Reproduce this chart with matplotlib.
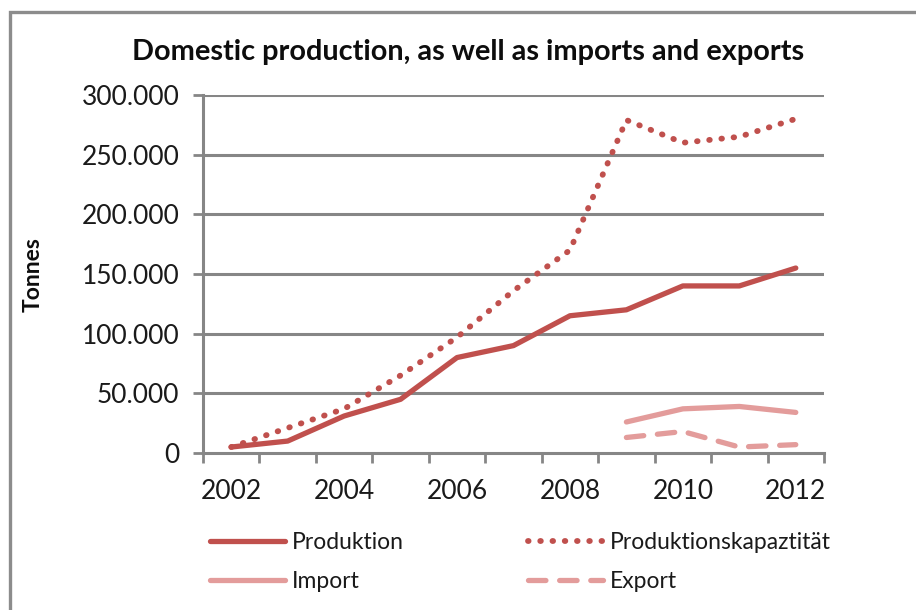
import matplotlib
matplotlib.use("Agg")
import matplotlib.pyplot as plt
from matplotlib.patches import Rectangle
from matplotlib.ticker import FuncFormatter, FixedLocator

plt.rcParams['font.family'] = ['Lato', 'DejaVu Sans']

years = [2002, 2003, 2004, 2005, 2006, 2007, 2008, 2009, 2010, 2011, 2012]
produktion = [5000, 10000, 31000, 45000, 80000, 90000, 115000, 120000, 140000, 140000, 155000]
kapazitaet = [5000, 21000, 37000, 65000, 97000, 136000, 170000, 279000, 260000, 265000, 280000]
trade_years = [2009, 2010, 2011, 2012]
imports = [26000, 37000, 39000, 34000]
exports = [13000, 18000, 5000, 7000]
tick_years = [2002, 2004, 2006, 2008, 2010, 2012]

W, H = 916, 610
fig = plt.figure(figsize=(W / 100, H / 100), dpi=100)

# chart frame
fig.patches.append(Rectangle((10 / W, -0.1), 1.2, 1 - 12 / H + 0.1,
                             transform=fig.transFigure, fill=False,
                             edgecolor='#8c8c8c', linewidth=2.4))

ax = fig.add_axes([203 / W, 1 - 453 / H, (824 - 203) / W, (453 - 95) / H])

red = '#c0504d'
pink = '#e39c9b'
grid = '#868686'

ax.plot(years, produktion, color=red, lw=3.8, solid_capstyle='round', label='Produktion', zorder=3)
ax.plot(years, kapazitaet, color=red, lw=4.2, linestyle=(0, (0.1, 2.0)),
        dash_capstyle='round', label='Produktionskapaztität', zorder=3)
ax.plot(trade_years, imports, color=pink, lw=3.8, solid_capstyle='round', label='Import', zorder=3)
ax.plot(trade_years, exports, color=pink, lw=3.8, linestyle=(0, (3.3, 2.6)),
        dash_capstyle='round', label='Export', zorder=3)

ax.set_xlim(2001.5, 2012.5)
ax.set_ylim(0, 300000)

yt = list(range(0, 300001, 50000))
ax.set_yticks(yt)
ax.yaxis.set_major_formatter(FuncFormatter(lambda v, p: f"{int(v):,}".replace(',', '.')))
for v in yt[1:]:
    ax.axhline(v, color=grid, lw=2.2, zorder=1)

# category labels every other year, tick marks between categories
ax.xaxis.set_major_locator(FixedLocator(tick_years))
ax.xaxis.set_minor_locator(FixedLocator([y - 0.5 for y in years] + [years[-1] + 0.5]))
ax.tick_params(axis='x', which='major', length=0, labelsize=19, pad=19, colors='#1a1a1a')
ax.tick_params(axis='x', which='minor', length=7, width=2.0, color=grid, direction='out')
ax.tick_params(axis='y', length=7, width=2.0, color=grid, labelsize=19, pad=10, labelcolor='#1a1a1a')

for s in ['top', 'right']:
    ax.spines[s].set_visible(False)
for s in ['left', 'bottom']:
    ax.spines[s].set_color(grid)
    ax.spines[s].set_linewidth(2.2)

fig.text(468 / W, 1 - 52 / H, 'Domestic production, as well as imports and exports',
         ha='center', va='center', fontsize=20.8, fontweight='bold', color='#0d0d0d')
fig.text(33 / W, 1 - 275 / H, 'Tonnes', rotation=90, ha='center', va='center',
         fontsize=16.5, fontweight='bold', color='#0d0d0d')

handles, labels = ax.get_legend_handles_labels()
order = [0, 2, 1, 3]
leg = fig.legend([handles[i] for i in order], [labels[i] for i in order],
                 ncol=2, loc='upper left', bbox_to_anchor=(210 / W, 1 - 532 / H),
                 frameon=False, fontsize=16.5, handlelength=3.27, handletextpad=0.3,
                 columnspacing=5.4, labelspacing=0.8, borderpad=0, borderaxespad=0)
for t in leg.get_texts():
    t.set_color('#1a1a1a')

fig.savefig('out.png', dpi=100)
